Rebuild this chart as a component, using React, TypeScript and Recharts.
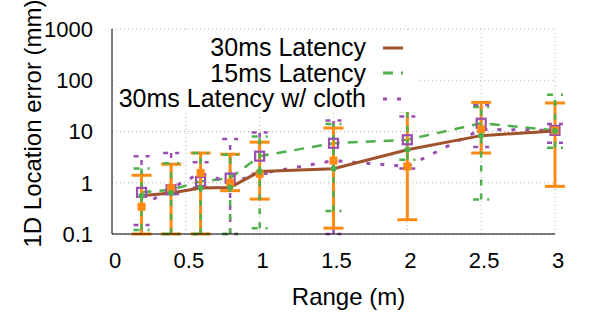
import { CartesianGrid, ErrorBar, Legend, Line, LineChart, XAxis, YAxis } from 'recharts';

// range in metres
const ranges = [0.2, 0.4, 0.6, 0.8, 1, 1.5, 2, 2.5, 3];

// 30ms latency (mm) with min / max
const lat30 = [0.56, 0.63, 0.79, 0.81, 1.66, 1.88, 4.4, 8.3, 10.2];
const lat30Low = [0.12, 0.1, 0.1, 0.1, 0.13, 0.28, 2.8, 0.47, 4.8];
const lat30High = [1.9, 2.4, 3.8, 3.5, 8, 14, 25, 30, 52];

// 15ms latency
const lat15 = [0.65, 0.73, 1.06, 1.23, 3.3, 5.9, 6.9, 14.5, 10.5];
const lat15Low = [0.15, 0.6, 0.8, 0.1, 1.5, 0.1, 1.9, 5, 6];
const lat15High = [3.3, 3.8, 2.5, 7.1, 9.6, 16.4, 19.7, 33, 14];

// 30ms latency w/ cloth
const cloth = [0.34, 0.78, 1.55, 1.0, 1.5, 2.7, 2.08, 11, 10.5];
const clothLow = [0.1, 0.1, 0.1, 0.7, 0.48, 0.13, 0.19, 3.8, 0.85];
const clothHigh = [1.4, 2.3, 3.8, 3.6, 6.2, 11.7, 27, 37, 36];

const xTicks = [0, 0.5, 1, 1.5, 2, 2.5, 3];
const yTicks = [0.1, 1, 10, 100, 1000];
const yMinorTicks = [
  0.2, 0.3, 0.4, 0.5, 0.6, 0.7, 0.8, 0.9,
  2, 3, 4, 5, 6, 7, 8, 9,
  20, 30, 40, 50, 60, 70, 80, 90,
  200, 300, 400, 500, 600, 700, 800, 900,
];

const BROWN = '#a0522d';
const GREEN = '#4db04a';
const PURPLE = '#9a4fb0';
const ORANGE = '#ff8a12';
const FONT = '"Liberation Sans", Arial, Helvetica, sans-serif';

const data = ranges.map((r, i) => ({
  range: r,
  lat30: lat30[i],
  lat30Err: [lat30[i] - lat30Low[i], lat30High[i] - lat30[i]],
  lat15: lat15[i],
  lat15Err: [lat15[i] - lat15Low[i], lat15High[i] - lat15[i]],
  cloth: cloth[i],
  clothErr: [cloth[i] - clothLow[i], clothHigh[i] - cloth[i]],
}));

const legendItems = [
  { label: '30ms Latency', color: BROWN, dash: undefined },
  { label: '15ms Latency', color: GREEN, dash: '10 8' },
  { label: '30ms Latency w/ cloth', color: PURPLE, dash: '4 10' },
];

const fmt = (v: number) => String(v);
const noLabel = () => '';
const tickLine = { stroke: '#000', strokeWidth: 1 };

const squareDot = (size: number, stroke: string, fill: string, sw: number) => (props: any) => {
  const { cx, cy, index } = props;
  if (cx == null || cy == null) return <g key={`n${index}`} />;
  return (
    <rect
      key={`d${index}`}
      x={cx - size / 2}
      y={cy - size / 2}
      width={size}
      height={size}
      stroke={stroke}
      fill={fill}
      strokeWidth={sw}
    />
  );
};

const renderLegend = () => (
  <div style={{ fontFamily: FONT, fontSize: 25, color: '#000', paddingTop: 4 }}>
    {legendItems.map((it) => (
      <div
        key={it.label}
        style={{ display: 'flex', justifyContent: 'flex-end', alignItems: 'center', height: 25.5, paddingRight: 15 }}
      >
        <span style={{ whiteSpace: 'nowrap' }}>{it.label}</span>
        <svg width={20} height={10} style={{ marginLeft: 17 }}>
          <line x1={0} x2={20} y1={5} y2={5} stroke={it.color} strokeWidth={3} strokeDasharray={it.dash} />
        </svg>
      </div>
    ))}
  </div>
);

// zero-size mirrored axes, only used to draw the inward tick marks on all four sides
const logTickAxis = (id: string, side: 'left' | 'right', ticks: number[], size: number) => (
  <YAxis
    key={id}
    yAxisId={id}
    orientation={side}
    mirror
    scale="log"
    domain={[0.1, 1000]}
    ticks={ticks}
    allowDataOverflow
    width={0}
    tickFormatter={noLabel}
    tickSize={size}
    tickLine={tickLine}
    axisLine={false}
  />
);

const xTickAxis = (id: string, side: 'top' | 'bottom') => (
  <XAxis
    key={id}
    xAxisId={id}
    orientation={side}
    mirror
    dataKey="range"
    type="number"
    domain={[0, 3]}
    ticks={xTicks}
    height={0}
    tickFormatter={noLabel}
    tickSize={6}
    tickLine={tickLine}
    axisLine={false}
  />
);

export default function App() {
  return (
    <div style={{ position: 'absolute', left: 0, top: 0, background: '#fff' }}>
      <LineChart width={600} height={315} data={data} margin={{ top: 29, right: 45, bottom: 0, left: 0 }}>
        <CartesianGrid stroke="#b0b0b0" strokeDasharray="1 3" />
        {xTickAxis('tickB', 'bottom')}
        {xTickAxis('tickT', 'top')}
        <XAxis
          dataKey="range"
          type="number"
          domain={[0, 3]}
          ticks={xTicks}
          tickFormatter={fmt}
          height={81}
          tickSize={0}
          tickLine={false}
          tickMargin={18}
          stroke="#000"
          tick={{ fill: '#000', fontSize: 22, fontFamily: FONT, dx: 3 }}
          label={(p: any) => {
            const vb = p.viewBox;
            return (
              <text
                x={vb.x + vb.width / 2 + 15}
                y={305}
                textAnchor="middle"
                fontSize={24}
                fontFamily={FONT}
                fill="#000"
              >
                Range (m)
              </text>
            );
          }}
        />
        {logTickAxis('majorL', 'left', yTicks, 6)}
        {logTickAxis('minorL', 'left', yMinorTicks, 3)}
        <YAxis
          scale="log"
          domain={[0.1, 1000]}
          ticks={yTicks}
          allowDataOverflow
          tickFormatter={fmt}
          width={112}
          tickSize={0}
          tickLine={false}
          tickMargin={19}
          stroke="#000"
          tick={{ fill: '#000', fontSize: 22, fontFamily: FONT }}
          label={(p: any) => {
            const vb = p.viewBox;
            const cx = 41;
            const cy = vb.y + vb.height / 2 - 8;
            return (
              <text
                x={cx}
                y={cy}
                transform={`rotate(-90 ${cx} ${cy})`}
                textAnchor="middle"
                fontSize={24}
                fontFamily={FONT}
                fill="#000"
              >
                1D Location error (mm)
              </text>
            );
          }}
        />
        {logTickAxis('majorR', 'right', yTicks, 6)}
        {logTickAxis('minorR', 'right', yMinorTicks, 3)}
        <Legend
          layout="horizontal"
          verticalAlign="middle"
          align="center"
          content={renderLegend}
          wrapperStyle={{ left: 115, top: 31, width: 303, height: 81, background: '#fff' }}
        />
        <Line
          dataKey="lat15"
          stroke={GREEN}
          strokeWidth={2.5}
          strokeDasharray="10 8"
          isAnimationActive={false}
          dot={squareDot(9, PURPLE, 'none', 2.2)}
        >
          <ErrorBar dataKey="lat15Err" direction="y" width={8} stroke={PURPLE} strokeWidth={2.5} strokeDasharray="5 7" />
        </Line>
        <Line
          dataKey="cloth"
          stroke={PURPLE}
          strokeWidth={3}
          strokeDasharray="4 10"
          isAnimationActive={false}
          dot={squareDot(7, ORANGE, ORANGE, 1)}
        >
          <ErrorBar dataKey="clothErr" direction="y" width={10} stroke={ORANGE} strokeWidth={3} />
        </Line>
        <Line
          dataKey="lat30"
          stroke={BROWN}
          strokeWidth={3}
          isAnimationActive={false}
          dot={(props: any) =>
            props.cx == null ? (
              <g key={`n${props.index}`} />
            ) : (
              <circle key={`c${props.index}`} cx={props.cx} cy={props.cy} r={3} fill={GREEN} />
            )
          }
        >
          <ErrorBar dataKey="lat30Err" direction="y" width={8} stroke={GREEN} strokeWidth={2.5} strokeDasharray="6 8" />
        </Line>
      </LineChart>
    </div>
  );
}
